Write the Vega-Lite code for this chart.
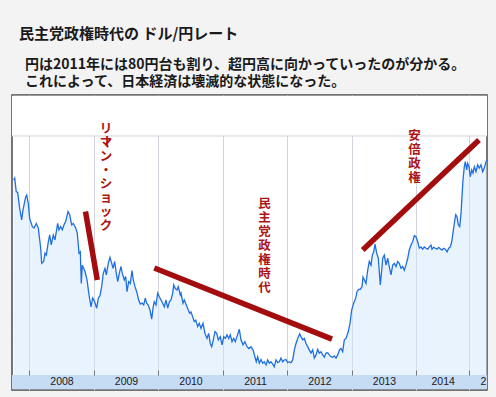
{
  "$schema": "https://vega.github.io/schema/vega-lite/v6.json",
  "padding": {"left": 10, "top": 27, "right": 10, "bottom": 7},
  "background": "#f3f3f3",
  "title": {
    "text": "民主党政権時代の ドル/円レート",
    "anchor": "start",
    "frame": "group",
    "dx": 7,
    "offset": 15.2,
    "font": "Noto Sans CJK JP",
    "fontSize": 15,
    "fontWeight": "bold",
    "color": "#1a1a1a"
  },
  "config": {
    "view": {"fill": "white", "stroke": "#4a4a4a", "strokeWidth": 1.5}
  },
  "datasets": {
    "rate": [
      {"t":2007.758,"v":117.1},{"t":2007.774,"v":117.5},{"t":2007.798,"v":114.5},{"t":2007.820,"v":114.4},{"t":2007.851,"v":110.9},{"t":2007.882,"v":108.4},{"t":2007.902,"v":110.5},{"t":2007.944,"v":113.4},{"t":2007.960,"v":113.8},{"t":2007.984,"v":112.0},
      {"t":2008.006,"v":108.7},{"t":2008.047,"v":106.9},{"t":2008.073,"v":106.6},{"t":2008.109,"v":107.6},{"t":2008.140,"v":106.6},{"t":2008.177,"v":102.2},{"t":2008.192,"v":98.9},{"t":2008.223,"v":99.3},{"t":2008.243,"v":101.1},{"t":2008.264,"v":100.7},
      {"t":2008.295,"v":103.6},{"t":2008.316,"v":105.1},{"t":2008.341,"v":102.9},{"t":2008.372,"v":105.1},{"t":2008.398,"v":104.0},{"t":2008.440,"v":107.6},{"t":2008.460,"v":106.2},{"t":2008.487,"v":106.9},{"t":2008.512,"v":106.2},{"t":2008.538,"v":107.3},
      {"t":2008.564,"v":108.0},{"t":2008.600,"v":110.2},{"t":2008.626,"v":109.5},{"t":2008.657,"v":107.3},{"t":2008.682,"v":107.6},{"t":2008.719,"v":106.6},{"t":2008.744,"v":105.5},{"t":2008.771,"v":101.1},{"t":2008.791,"v":101.4},{"t":2008.806,"v":94.5},
      {"t":2008.822,"v":98.5},{"t":2008.864,"v":97.1},{"t":2008.895,"v":95.3},{"t":2008.926,"v":92.0},{"t":2008.957,"v":89.4},{"t":2008.983,"v":91.3},{"t":2009.008,"v":90.7},{"t":2009.045,"v":89.1},{"t":2009.070,"v":91.3},{"t":2009.096,"v":91.8},
      {"t":2009.122,"v":93.8},{"t":2009.147,"v":96.7},{"t":2009.174,"v":97.8},{"t":2009.194,"v":96.4},{"t":2009.225,"v":98.9},{"t":2009.251,"v":100.2},{"t":2009.278,"v":98.9},{"t":2009.298,"v":97.8},{"t":2009.324,"v":99.3},{"t":2009.349,"v":96.7},
      {"t":2009.371,"v":94.9},{"t":2009.395,"v":96.7},{"t":2009.422,"v":98.2},{"t":2009.442,"v":96.7},{"t":2009.473,"v":95.3},{"t":2009.495,"v":96.0},{"t":2009.515,"v":92.7},{"t":2009.541,"v":94.9},{"t":2009.566,"v":94.5},{"t":2009.592,"v":97.3},
      {"t":2009.612,"v":95.3},{"t":2009.639,"v":93.8},{"t":2009.665,"v":92.7},{"t":2009.696,"v":90.9},{"t":2009.721,"v":90.0},{"t":2009.747,"v":90.2},{"t":2009.774,"v":89.8},{"t":2009.798,"v":91.3},{"t":2009.820,"v":90.2},{"t":2009.845,"v":89.8},
      {"t":2009.871,"v":88.7},{"t":2009.898,"v":86.7},{"t":2009.918,"v":89.1},{"t":2009.938,"v":90.5},{"t":2009.964,"v":89.8},{"t":2009.991,"v":92.4},{"t":2010.016,"v":91.6},{"t":2010.042,"v":90.9},{"t":2010.068,"v":90.2},{"t":2010.093,"v":89.4},
      {"t":2010.119,"v":90.9},{"t":2010.146,"v":89.1},{"t":2010.171,"v":90.5},{"t":2010.197,"v":90.9},{"t":2010.223,"v":92.4},{"t":2010.239,"v":94.2},{"t":2010.264,"v":93.4},{"t":2010.290,"v":93.1},{"t":2010.310,"v":93.8},{"t":2010.341,"v":92.0},
      {"t":2010.352,"v":92.4},{"t":2010.383,"v":90.2},{"t":2010.403,"v":90.9},{"t":2010.434,"v":89.8},{"t":2010.465,"v":88.7},{"t":2010.487,"v":88.0},{"t":2010.507,"v":88.3},{"t":2010.533,"v":87.2},{"t":2010.558,"v":86.2},{"t":2010.580,"v":86.5},
      {"t":2010.611,"v":85.1},{"t":2010.636,"v":85.8},{"t":2010.662,"v":84.7},{"t":2010.693,"v":85.8},{"t":2010.724,"v":83.6},{"t":2010.755,"v":82.5},{"t":2010.781,"v":83.6},{"t":2010.806,"v":81.4},{"t":2010.828,"v":80.7},{"t":2010.853,"v":82.2},
      {"t":2010.879,"v":84.0},{"t":2010.906,"v":83.6},{"t":2010.930,"v":82.2},{"t":2010.961,"v":82.9},{"t":2010.988,"v":81.1},{"t":2011.014,"v":82.9},{"t":2011.039,"v":82.5},{"t":2011.065,"v":83.3},{"t":2011.091,"v":82.5},{"t":2011.116,"v":83.3},
      {"t":2011.143,"v":81.8},{"t":2011.169,"v":82.5},{"t":2011.194,"v":81.8},{"t":2011.220,"v":82.9},{"t":2011.256,"v":84.5},{"t":2011.282,"v":82.2},{"t":2011.313,"v":81.1},{"t":2011.344,"v":81.8},{"t":2011.375,"v":80.7},{"t":2011.406,"v":80.3},
      {"t":2011.437,"v":80.7},{"t":2011.468,"v":80.0},{"t":2011.519,"v":77.4},{"t":2011.541,"v":78.5},{"t":2011.566,"v":77.1},{"t":2011.592,"v":77.9},{"t":2011.619,"v":77.1},{"t":2011.643,"v":77.4},{"t":2011.670,"v":76.7},{"t":2011.696,"v":77.8},
      {"t":2011.721,"v":77.1},{"t":2011.747,"v":77.4},{"t":2011.774,"v":76.9},{"t":2011.798,"v":76.3},{"t":2011.825,"v":77.8},{"t":2011.851,"v":77.2},{"t":2011.876,"v":77.4},{"t":2011.902,"v":78.2},{"t":2011.929,"v":77.4},{"t":2011.953,"v":77.8},
      {"t":2011.980,"v":77.9},{"t":2012.006,"v":77.2},{"t":2012.031,"v":77.4},{"t":2012.057,"v":77.2},{"t":2012.084,"v":77.8},{"t":2012.109,"v":80.0},{"t":2012.135,"v":81.4},{"t":2012.161,"v":82.5},{"t":2012.192,"v":83.5},{"t":2012.212,"v":82.9},
      {"t":2012.239,"v":82.2},{"t":2012.264,"v":82.5},{"t":2012.290,"v":81.4},{"t":2012.316,"v":80.7},{"t":2012.341,"v":80.0},{"t":2012.367,"v":79.3},{"t":2012.394,"v":80.0},{"t":2012.419,"v":78.2},{"t":2012.445,"v":78.9},{"t":2012.471,"v":80.1},
      {"t":2012.496,"v":79.3},{"t":2012.522,"v":79.6},{"t":2012.549,"v":78.9},{"t":2012.574,"v":78.4},{"t":2012.600,"v":79.3},{"t":2012.626,"v":79.4},{"t":2012.651,"v":78.9},{"t":2012.677,"v":78.5},{"t":2012.704,"v":78.4},{"t":2012.729,"v":78.7},
      {"t":2012.755,"v":78.2},{"t":2012.781,"v":78.9},{"t":2012.812,"v":80.1},{"t":2012.833,"v":80.3},{"t":2012.859,"v":79.6},{"t":2012.884,"v":82.2},{"t":2012.910,"v":82.5},{"t":2012.946,"v":84.0},{"t":2012.972,"v":85.8},{"t":2012.998,"v":88.7},
      {"t":2013.029,"v":90.2},{"t":2013.060,"v":91.3},{"t":2013.081,"v":92.7},{"t":2013.107,"v":93.2},{"t":2013.132,"v":93.2},{"t":2013.158,"v":93.8},{"t":2013.174,"v":95.9},{"t":2013.194,"v":95.3},{"t":2013.220,"v":94.5},{"t":2013.247,"v":97.4},
      {"t":2013.271,"v":99.3},{"t":2013.298,"v":98.5},{"t":2013.318,"v":100.7},{"t":2013.340,"v":101.4},{"t":2013.360,"v":103.1},{"t":2013.386,"v":101.1},{"t":2013.411,"v":100.0},{"t":2013.442,"v":94.2},{"t":2013.464,"v":97.4},{"t":2013.479,"v":100.0},
      {"t":2013.504,"v":100.7},{"t":2013.530,"v":98.5},{"t":2013.557,"v":100.0},{"t":2013.581,"v":98.2},{"t":2013.608,"v":96.4},{"t":2013.634,"v":98.5},{"t":2013.659,"v":98.9},{"t":2013.685,"v":98.2},{"t":2013.712,"v":99.3},{"t":2013.736,"v":98.9},
      {"t":2013.763,"v":97.8},{"t":2013.789,"v":98.2},{"t":2013.814,"v":97.4},{"t":2013.840,"v":98.5},{"t":2013.867,"v":100.0},{"t":2013.891,"v":101.8},{"t":2013.918,"v":102.9},{"t":2013.944,"v":103.6},{"t":2013.969,"v":104.9},{"t":2013.995,"v":104.7},
      {"t":2014.027,"v":103.6},{"t":2014.057,"v":102.2},{"t":2014.089,"v":102.5},{"t":2014.121,"v":102.0},{"t":2014.152,"v":102.5},{"t":2014.184,"v":102.2},{"t":2014.216,"v":102.0},{"t":2014.247,"v":102.5},{"t":2014.279,"v":102.9},{"t":2014.298,"v":102.0},
      {"t":2014.330,"v":102.4},{"t":2014.361,"v":102.2},{"t":2014.393,"v":102.0},{"t":2014.425,"v":102.4},{"t":2014.455,"v":102.1},{"t":2014.488,"v":101.8},{"t":2014.520,"v":102.2},{"t":2014.550,"v":102.0},{"t":2014.583,"v":101.4},{"t":2014.615,"v":102.2},
      {"t":2014.645,"v":102.5},{"t":2014.672,"v":103.6},{"t":2014.696,"v":105.5},{"t":2014.721,"v":107.6},{"t":2014.748,"v":109.5},{"t":2014.772,"v":109.1},{"t":2014.797,"v":107.3},{"t":2014.824,"v":106.9},{"t":2014.848,"v":109.8},{"t":2014.867,"v":113.4},
      {"t":2014.886,"v":117.1},{"t":2014.911,"v":120.0},{"t":2014.930,"v":121.1},{"t":2014.956,"v":119.3},{"t":2014.975,"v":120.7},{"t":2015.000,"v":120.0},{"t":2015.025,"v":117.8},{"t":2015.051,"v":119.3},{"t":2015.076,"v":118.6},{"t":2015.101,"v":120.0},
      {"t":2015.133,"v":118.9},{"t":2015.165,"v":120.4},{"t":2015.195,"v":119.7},{"t":2015.228,"v":120.4},{"t":2015.260,"v":118.9},{"t":2015.290,"v":119.7},{"t":2015.323,"v":121.1},{"t":2015.342,"v":121.5}
    ],
    "arrows": [
      {"t1":2008.871,"v1":110.22,"t2":2009.054,"v2":95.26},
      {"t1":2009.938,"v1":97.88,"t2":2012.693,"v2":82.34},
      {"t1":2013.169,"v1":101.81,"t2":2015.190,"v2":125.83}
    ],
    "notes": [
      {"t":2009.189,"v":129.56,"label":["リ","　","マ","ン","・","シ","ョ","ッ","ク"]},
      {"t":2011.647,"v":113.06,"label":["民","主","党","政","権","時","代"]},
      {"t":2013.972,"v":127.90,"label":["安","倍","政","権"]}
    ],
    "dash": [
      {"t":2009.189,"v":125.61,"label":"ー"}
    ]
  },
  "vconcat": [
    {
      "width": 475,
      "height": 295,
      "title": {
        "text": ["円は2011年には80円台も割り、超円高に向かっていったのが分かる。", "これによって、日本経済は壊滅的な状態になった。"],
        "anchor": "start",
        "frame": "group",
        "dx": 13,
        "offset": 5.8,
        "lineHeight": 17,
        "font": "Noto Sans CJK JP",
        "fontSize": 14,
        "fontWeight": "bold",
        "color": "#1a1a1a"
      },
      "resolve": {"axis": {"x": "independent"}},
      "layer": [
        {
          "data": {"name": "rate"},
          "mark": {"type": "area", "fill": "#cfe5fa", "fillOpacity": 0.45},
          "encoding": {
            "x": {"field": "t", "type": "quantitative",
              "scale": {"type": "linear", "domain": [2007.732, 2014, 2015, 2015.342], "range": [0, 404.3, 457, 475], "nice": false, "zero": false},
              "axis": {"orient": "bottom", "values": [2008, 2009, 2010, 2011, 2012, 2013, 2014, 2015], "grid": true, "gridColor": "#d3d3de", "gridWidth": 1, "labels": false, "ticks": false, "domain": false, "title": null, "zindex": 0}},
            "y": {"field": "v", "type": "quantitative",
              "scale": {"domain": [71.24, 135.65], "nice": false, "zero": false},
              "axis": {"orient": "right", "values": [80, 90, 100, 110, 120], "offset": -5, "grid": true, "gridColor": "#d3d3de", "gridWidth": 1, "domain": false, "ticks": false, "tickSize": 0, "labelPadding": 0, "labelAlign": "right", "labelBaseline": "alphabetic", "labelOffset": -1.5, "labelFont": "Liberation Sans", "labelFontSize": 10.5, "labelColor": "#1a1a1a", "title": null, "zindex": 0}},
            "y2": {"datum": 74.52}
          }
        },
        {
          "data": {"values": [{}]},
          "mark": {"type": "rect", "fill": "#c6dbf4"},
          "encoding": {
            "y": {"datum": 74.52, "type": "quantitative", "scale": {"domain": [71.24, 135.65], "nice": false, "zero": false}, "axis": null},
            "y2": {"datum": 71.41}
          }
        },
        {
          "data": {"values": [{}]},
          "mark": {"type": "rect", "fill": "white"},
          "encoding": {
            "y": {"datum": 126.70, "type": "quantitative", "scale": {"domain": [71.24, 135.65], "nice": false, "zero": false}, "axis": null},
            "y2": {"datum": 135.48}
          }
        },
        {
          "data": {"values": [{}]},
          "mark": {"type": "rule", "stroke": "#d3d3de", "strokeWidth": 1},
          "encoding": {
            "y": {"datum": 126.70, "type": "quantitative", "scale": {"domain": [71.24, 135.65], "nice": false, "zero": false}, "axis": null}
          }
        },
        {
          "data": {"name": "rate"},
          "mark": {"type": "line", "stroke": "#1f6fe0", "strokeWidth": 1.3},
          "encoding": {
            "x": {"field": "t", "type": "quantitative",
              "scale": {"type": "linear", "domain": [2007.732, 2014, 2015, 2015.342], "range": [0, 404.3, 457, 475], "nice": false, "zero": false},
              "axis": {"orient": "bottom", "values": [2008, 2009, 2010, 2011, 2012, 2013, 2014, 2015], "format": "d", "offset": -20, "grid": false, "domain": false, "ticks": true, "tickSize": 5, "tickColor": "#777777", "tickWidth": 1, "labels": true, "labelFont": "Liberation Sans", "labelFontSize": 10.5, "labelColor": "#1a1a1a", "labelPadding": 1.7, "labelBaseline": "top",
                "labelOffset": {"condition": [{"test": "datum.value == 2014", "value": 26.4}, {"test": "datum.value == 2015", "value": 14}], "value": 32.2},
                "labelExpr": "datum.value == 2015 ? '2' : datum.label", "labelOverlap": false, "labelFlush": false, "labelBound": false, "title": null, "zindex": 1}},
            "y": {"field": "v", "type": "quantitative", "scale": {"domain": [71.24, 135.65], "nice": false, "zero": false}, "axis": null}
          }
        },
        {
          "data": {"name": "arrows"},
          "mark": {"type": "rule", "stroke": "#a30d0d", "strokeWidth": 5.5, "strokeCap": "butt"},
          "encoding": {
            "x": {"field": "t1", "type": "quantitative", "scale": {"type": "linear", "domain": [2007.732, 2014, 2015, 2015.342], "range": [0, 404.3, 457, 475], "nice": false, "zero": false}, "axis": null},
            "x2": {"field": "t2"},
            "y": {"field": "v1", "type": "quantitative", "scale": {"domain": [71.24, 135.65], "nice": false, "zero": false}, "axis": null},
            "y2": {"field": "v2"}
          }
        },
        {
          "data": {"name": "notes"},
          "mark": {"type": "text", "font": "Noto Sans CJK JP", "fontSize": 12.5, "fontWeight": "bold", "color": "#ad1414", "align": "center", "baseline": "top", "lineHeight": 13.9},
          "encoding": {
            "x": {"field": "t", "type": "quantitative", "scale": {"type": "linear", "domain": [2007.732, 2014, 2015, 2015.342], "range": [0, 404.3, 457, 475], "nice": false, "zero": false}, "axis": null},
            "y": {"field": "v", "type": "quantitative", "scale": {"domain": [71.24, 135.65], "nice": false, "zero": false}, "axis": null},
            "text": {"field": "label", "type": "nominal"}
          }
        },
        {
          "data": {"name": "dash"},
          "mark": {"type": "text", "font": "Noto Sans CJK JP", "fontSize": 12.5, "fontWeight": "bold", "color": "#ad1414", "align": "center", "baseline": "middle", "angle": 90},
          "encoding": {
            "x": {"field": "t", "type": "quantitative", "scale": {"type": "linear", "domain": [2007.732, 2014, 2015, 2015.342], "range": [0, 404.3, 457, 475], "nice": false, "zero": false}, "axis": null},
            "y": {"field": "v", "type": "quantitative", "scale": {"domain": [71.24, 135.65], "nice": false, "zero": false}, "axis": null},
            "text": {"field": "label", "type": "nominal"}
          }
        }
      ]
    }
  ]
}
